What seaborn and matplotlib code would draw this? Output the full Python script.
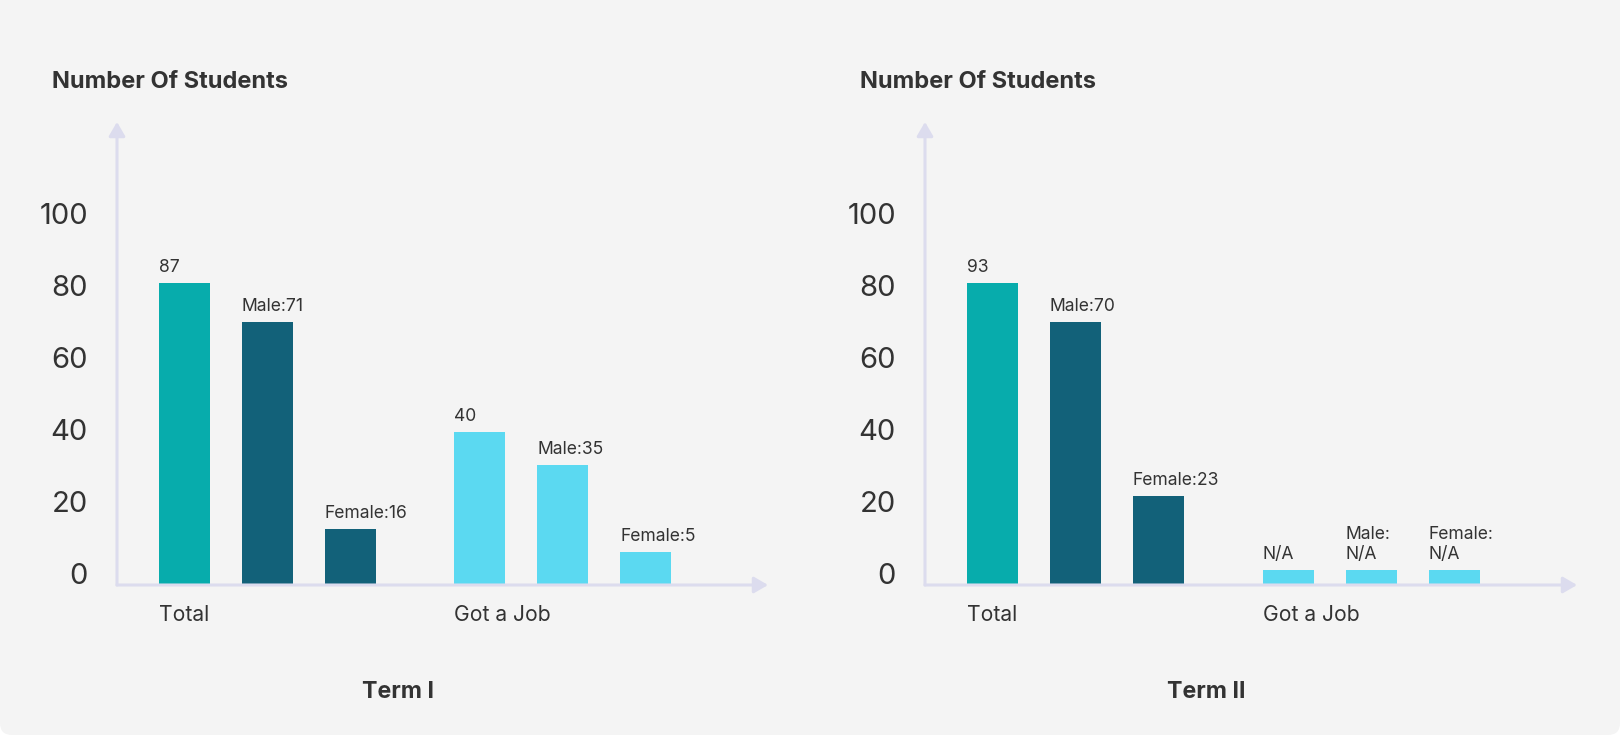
import matplotlib
matplotlib.use('Agg')
import matplotlib.pyplot as plt
from matplotlib.patches import FancyBboxPatch
from matplotlib.transforms import ScaledTranslation
import seaborn as sns
import pandas as pd

# --- data ---
groups = ['Total', 'Got a Job']
sexes = ['All', 'Male', 'Female']
terms = ['Term I', 'Term II']

# bar heights as drawn (axis units, 0 = x axis)
term1_heights = [83.8, 73.0, 15.5, 42.6, 33.3, 9.2]
term2_heights = [83.8, 73.0, 24.6, 4.2, 4.2, 4.2]

term1_labels = ['87', 'Male:71', 'Female:16', '40', 'Male:35', 'Female:5']
term2_labels = ['93', 'Male:70', 'Female:23', 'N/A', 'Male:\nN/A', 'Female:\nN/A']

y_ticks = [0, 20, 40, 60, 80, 100]

TEAL = '#07acac'
DARK = '#126179'
CYAN = '#5bd9f1'
AXIS = '#dcdcee'
TEXT = '#333333'
BG = '#f4f4f4'

sns.set_theme(style='white')
plt.rcParams['font.family'] = ['Inter', 'DejaVu Sans']


def make_frame(heights):
    rows = []
    for i, h in enumerate(heights):
        rows.append({'group': groups[i // 3], 'sex': sexes[i % 3], 'count': h})
    return pd.DataFrame(rows)


def draw_term(ax, heights, labels):
    df = make_frame(heights)
    common = dict(x='group', y='count', hue='sex', order=groups, hue_order=sexes,
                  width=0.843, gap=0.385, legend=False, ax=ax, edgecolor='none',
                  saturation=1)
    sns.barplot(data=df[df['group'] == 'Total'], palette=[TEAL, DARK, DARK], **common)
    sns.barplot(data=df[df['group'] == 'Got a Job'], palette=[CYAN, CYAN, CYAN], **common)

    ax.set_xlim(-0.508, 1.695)
    ax.set_ylim(0, 128.6)
    ax.set_facecolor('none')
    for s in ax.spines.values():
        s.set_visible(False)

    bars = sorted(ax.patches, key=lambda p: p.get_x())
    for bar, lab in zip(bars, labels):
        ax.annotate(lab, xy=(bar.get_x(), bar.get_height()), xytext=(0, 5),
                    textcoords='offset points', ha='left', va='bottom',
                    fontsize=12.6, color=TEXT, linespacing=1.2)

    # category labels sit at the left edge of each group's first bar
    ax.set_xticks([bars[0].get_x(), bars[3].get_x()])
    ax.set_xticklabels(groups, ha='left', fontsize=15.2, color=TEXT)
    ax.tick_params(axis='x', length=0, pad=14.5)

    ax.set_yticks(y_ticks)
    ax.set_yticklabels([str(t) for t in y_ticks], fontsize=21, color=TEXT)
    ax.tick_params(axis='y', length=0, pad=21)
    shift = ScaledTranslation(0, 11.7 / 100, ax.figure.dpi_scale_trans)
    for t in ax.get_yticklabels():
        t.set_transform(t.get_transform() + shift)

    ax.set_xlabel('')
    ax.set_ylabel('')

    arrow = dict(arrowstyle='-|>,head_length=0.6,head_width=0.35', color=AXIS,
                 lw=2.2, shrinkA=0, shrinkB=0, mutation_scale=14)
    ax.annotate('', xy=(0, 1), xytext=(0, 0), xycoords='axes fraction',
                arrowprops=arrow, annotation_clip=False)
    ax.annotate('', xy=(1, 0), xytext=(0, 0), xycoords='axes fraction',
                arrowprops=arrow, annotation_clip=False)


fig = plt.figure(figsize=(16.2, 7.35), dpi=100)
fig.patch.set_facecolor('white')
fig.patches.append(FancyBboxPatch((0, 0), 16.2, 7.8, boxstyle='round,pad=0,rounding_size=0.12',
                                  transform=fig.dpi_scale_trans, facecolor=BG,
                                  edgecolor='none', zorder=-10))

ax1 = fig.add_axes([117 / 1620, 150 / 735, 651 / 1620, 463 / 735])
ax2 = fig.add_axes([925 / 1620, 150 / 735, 652 / 1620, 463 / 735])

draw_term(ax1, term1_heights, term1_labels)
draw_term(ax2, term2_heights, term2_labels)

for x in [52 / 1620, 860 / 1620]:
    fig.text(x, 1 - 81.7 / 735, 'Number Of Students', ha='left', va='center',
             fontsize=17, fontweight='bold', color=TEXT)
for x, term in zip([397.5 / 1620, 1206 / 1620], terms):
    fig.text(x, 1 - 691.7 / 735, term, ha='center', va='center',
             fontsize=16.7, fontweight='bold', color=TEXT)

fig.savefig('out.png', dpi=100, facecolor=fig.get_facecolor())
plt.close(fig)
